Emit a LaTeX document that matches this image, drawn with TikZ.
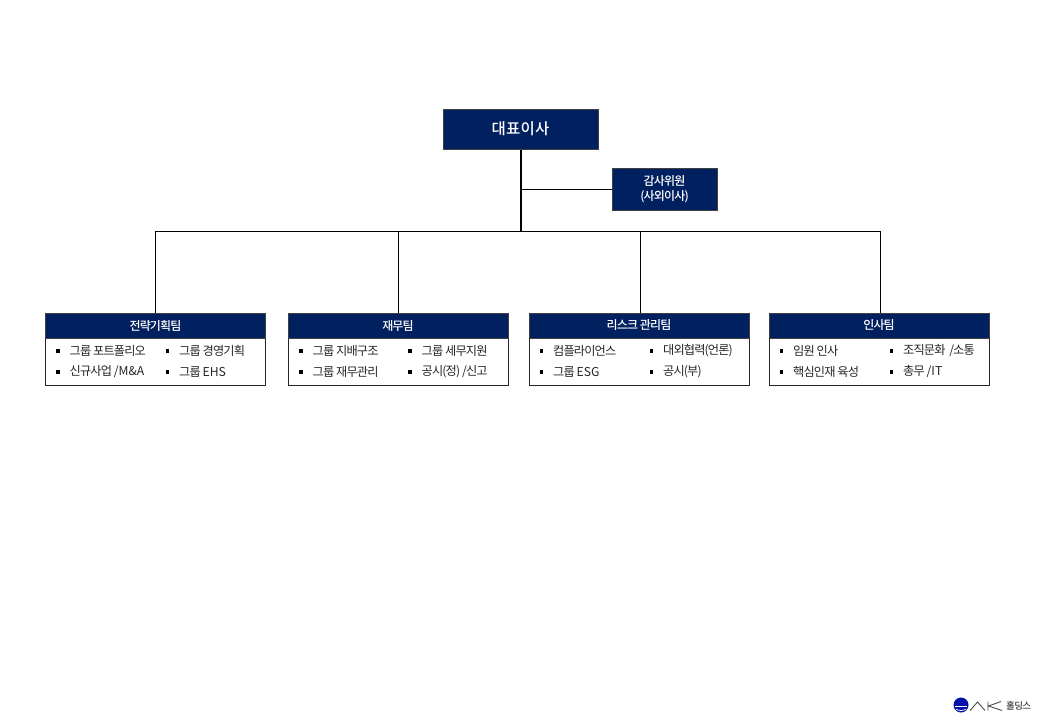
\documentclass[tikz,border=0pt]{standalone}
\usepackage{fontspec}
\setmainfont{Noto Sans CJK KR}
\newfontfamily\krt[LetterSpace=-7]{Noto Sans CJK KR}
\newfontfamily\krl{Noto Sans CJK KR}
\newfontfamily\krb[LetterSpace=-7]{Noto Sans CJK KR Medium}
\newfontfamily\krc[LetterSpace=2]{Noto Sans CJK KR Medium}
\newcommand{\lat}[1]{{\krl #1}}
\definecolor{navy}{HTML}{002060}
\definecolor{linegray}{HTML}{404040}
\tikzset{
  x=1pt,y=1pt,
  ceobox/.style={draw=linegray,line width=1pt,fill=navy,text=white,minimum width=155pt,minimum height=40pt,inner sep=0pt,font=\krc\fontsize{15.5}{18}\selectfont},
  auditbox/.style={draw=linegray,line width=1pt,fill=navy,text=white,minimum width=105pt,minimum height=42pt,inner sep=0pt,align=center,font=\krb\fontsize{12}{15.5}\selectfont},
  teamhead/.style={draw=linegray,line width=.8pt,fill=navy,text=white,minimum width=220pt,minimum height=25pt,inner sep=0pt,font=\krb\fontsize{12}{14}\selectfont},
  teambody/.style={draw=black!85,line width=.8pt,fill=white,minimum width=220pt,minimum height=47pt,inner sep=0pt},
  item/.style={anchor=west,inner sep=0pt,text=black!85,font=\krt\fontsize{12.2}{14}\selectfont},
  blt/.style={fill=black,minimum size=3.5pt,inner sep=0pt},
  conn/.style={draw=black,line width=.9pt},
  connbold/.style={draw=black,line width=1.8pt},
}
\newcommand{\teamitems}[7]{%
  \node[blt] (#1b1) at (#2,-351) {};
  \node[item] (#1i1) at (#2+11.5,-351) {#4};
  \node[blt] (#1b2) at (#3,-351) {};
  \node[item] (#1i2) at (#3+11.5,-351) {#5};
  \node[blt] (#1b3) at (#2,-372) {};
  \node[item] (#1i3) at (#2+11.5,-372) {#6};
  \node[blt] (#1b4) at (#3,-372) {};
  \node[item] (#1i4) at (#3+11.5,-372) {#7};
}
\begin{document}
\begin{tikzpicture}
\useasboundingbox (0,0) rectangle (1040,-720);
\fill[white] (0,0) rectangle (1040,-720);
\node[ceobox] (ceo) at (520.5,-129) {대표이사};
\node[auditbox] (audit) at (664.5,-189) {감사위원\\(사외이사)};
\coordinate (bus) at (521,-231.5);
\node[teambody] (b1) at (155.5,-361.5) {};
\node[teambody] (b2) at (398,-361.5) {};
\node[teambody] (b3) at (639,-361.5) {};
\node[teambody] (b4) at (879,-361.5) {};
\node[teamhead] (t1) at (155.5,-325.5) {전략기획팀};
\node[teamhead] (t2) at (398,-325.5) {재무팀};
\node[teamhead] (t3) at (639,-325.5) {리스크 관리팀};
\node[teamhead] (t4) at (879,-325.5) {인사팀};
\draw[connbold] ([xshift=.5pt]ceo.south) -- (bus);
\draw[conn] ([xshift=.5pt]ceo.south |- audit.west) -- (audit.west);
\draw[conn] (t1.north) |- (bus) -| ([xshift=1pt]t4.north);
\draw[conn] (t2.north) -- (t2.north |- bus);
\draw[conn] ([xshift=1pt]t3.north) -- ([xshift=1pt]t3.north |- bus);
\teamitems{a}{58}{167.5}{그룹 포트폴리오}{그룹 경영기획}{신규사업 /\lat{M\&A}}{그룹 \lat{EHS}}
\teamitems{c}{301}{410}{그룹 지배구조}{그룹 세무지원}{그룹 재무관리}{공시(정) /신고}
\teamitems{d}{541.5}{651.5}{컴플라이언스}{대외협력(언론)}{그룹 \lat{ESG}}{공시(부)}
\teamitems{e}{781.5}{891.5}{임원 인사}{조직문화\ \ /소통}{핵심인재 육성}{총무 /\lat{IT}}
% logo
\fill[blue!45!navy] (961,-705) circle (7.5);
\draw[white,line width=1pt] (955,-706) -- (967,-706);
\draw[white,line width=.7pt] (956,-709) .. controls (958,-711) and (964,-711) .. (966,-709);
\draw[black!70,line width=.9pt] (970,-710.5) -- (977.5,-702) -- (985,-710.5);
\draw[black!70,line width=.9pt] (988,-701.5) -- (988,-710.5) (1001,-701.5) -- (988.5,-706) -- (1002,-710.5);
\node[anchor=west,inner sep=0pt,text=black!75,font=\krb\fontsize{9.5}{10}\selectfont] (logotext) at (1006,-705.5) {홀딩스};
\end{tikzpicture}
\end{document}
